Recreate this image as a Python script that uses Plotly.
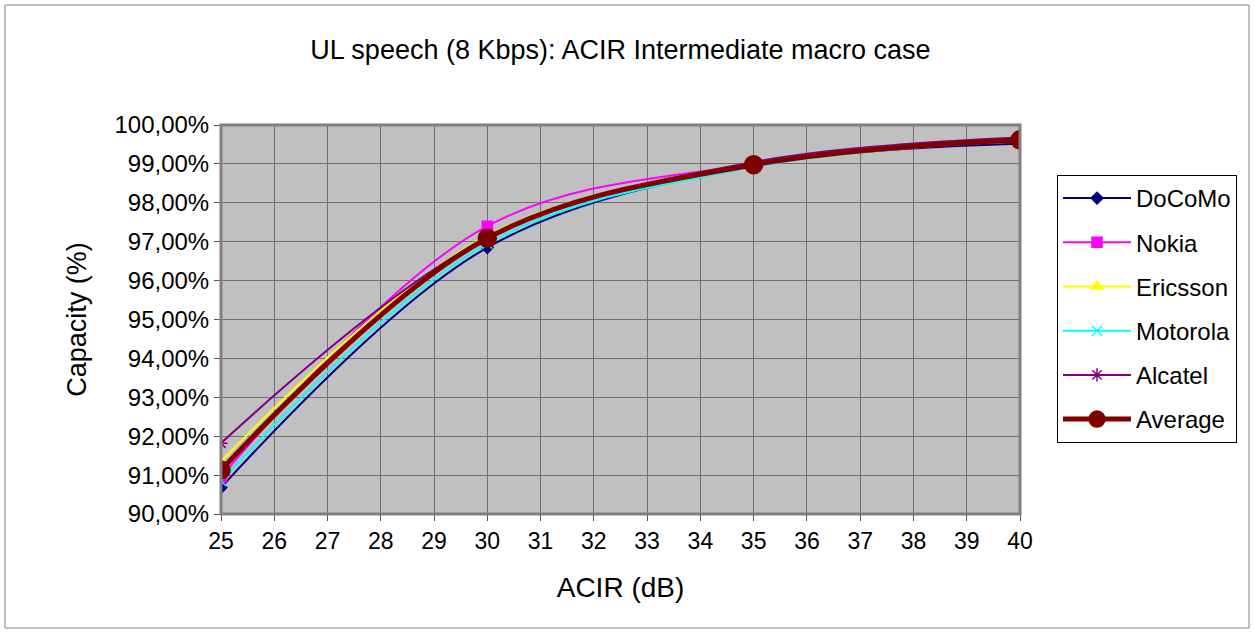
import plotly.graph_objects as go

acir = [25, 30, 35, 40]
docomo = [0.9068, 0.9685, 0.9895, 0.9952]
nokia = [0.9095, 0.9740, 0.9900, 0.9962]
ericsson = [0.9135, 0.9715, 0.9900, 0.9965]
motorola = [0.9085, 0.9695, 0.9892, 0.9960]
alcatel = [0.9182, 0.9710, 0.9905, 0.9968]
average = [0.9113, 0.9709, 0.9898, 0.9962]

x_ticks = list(range(25, 41))
y_ticks = [0.90 + 0.01 * i for i in range(11)]

series = [
    ("DoCoMo", docomo, "#000080", "diamond", 9, 2, "#000080"),
    ("Nokia", nokia, "#FF00FF", "square", 10, 2, "#FF00FF"),
    ("Ericsson", ericsson, "#FFFF00", "triangle-up", 10, 2, "#FFFF00"),
    ("Motorola", motorola, "#00FFFF", "x-thin-open", 10, 2, "#00FFFF"),
    ("Alcatel", alcatel, "#800080", "asterisk-open", 11, 2, "#800080"),
    ("Average", average, "#800000", "circle", 18, 5, "#800000"),
]

fig = go.Figure()
for i, (name, vals, color, sym, msize, lw, mcol) in enumerate(series):
    fig.add_trace(go.Scatter(
        x=acir, y=vals, name=name, mode="lines+markers",
        line=dict(color=color, width=lw, shape="spline", smoothing=1.0),
        marker=dict(symbol=sym, size=msize, color=mcol,
                    line=dict(color=mcol, width=1.5)),
        legendgroup=f"g{i}",
    ))

W, H = 1254, 632
L, R, T, B = 221, 1020, 125, 514
pw, ph = R - L, B - T

def px(xp):
    return (xp - L) / pw

def py(yp):
    return (B - yp) / ph

fig.update_layout(
    width=W, height=H,
    margin=dict(l=L, r=W - R, t=T, b=H - B),
    paper_bgcolor="white",
    plot_bgcolor="#C0C0C0",
    separators=", ",
    font=dict(family="Liberation Sans, Arial, sans-serif", size=24, color="black"),
    title=dict(text="UL speech (8 Kbps): ACIR Intermediate macro case",
               x=0.5, xref="paper", y=1 - 50 / H, yanchor="middle",
               font=dict(size=27)),
    showlegend=True,
    legend=dict(x=px(1057), y=py(175), xanchor="left", yanchor="top",
                bordercolor="black", borderwidth=1, bgcolor="white",
                font=dict(size=24), tracegroupgap=10, traceorder="grouped",
                itemwidth=68),
    xaxis=dict(range=[25, 40], tickvals=x_ticks, showgrid=True,
               gridcolor="#707070", gridwidth=1,
               showline=True, linecolor="black", linewidth=1,
               ticks="outside", ticklen=6, tickcolor="#555555",
               tickfont=dict(size=23), zeroline=False,
               title=dict(text="ACIR (dB)", font=dict(size=28), standoff=24)),
    yaxis=dict(range=[0.90, 1.00], tickvals=y_ticks, tickformat=".2%",
               showgrid=True, gridcolor="#707070", gridwidth=1,
               showline=True, linecolor="black", linewidth=1,
               ticks="outside", ticklen=6, tickcolor="#555555",
               tickfont=dict(size=24), zeroline=False,
               title=dict(text="Capacity (%)", font=dict(size=27), standoff=20)),
    shapes=[
        dict(type="rect", xref="paper", yref="paper", x0=0, x1=1, y0=0, y1=1,
             line=dict(color="#808080", width=3), layer="above"),
        dict(type="rect", xref="paper", yref="paper",
             x0=px(5), x1=px(1249), y0=py(628), y1=py(5),
             line=dict(color="#808080", width=1)),
    ],
)

fig.write_html("out.html", config={"displayModeBar": False},
               post_script="document.body.style.margin='0';document.body.style.overflow='hidden';")
